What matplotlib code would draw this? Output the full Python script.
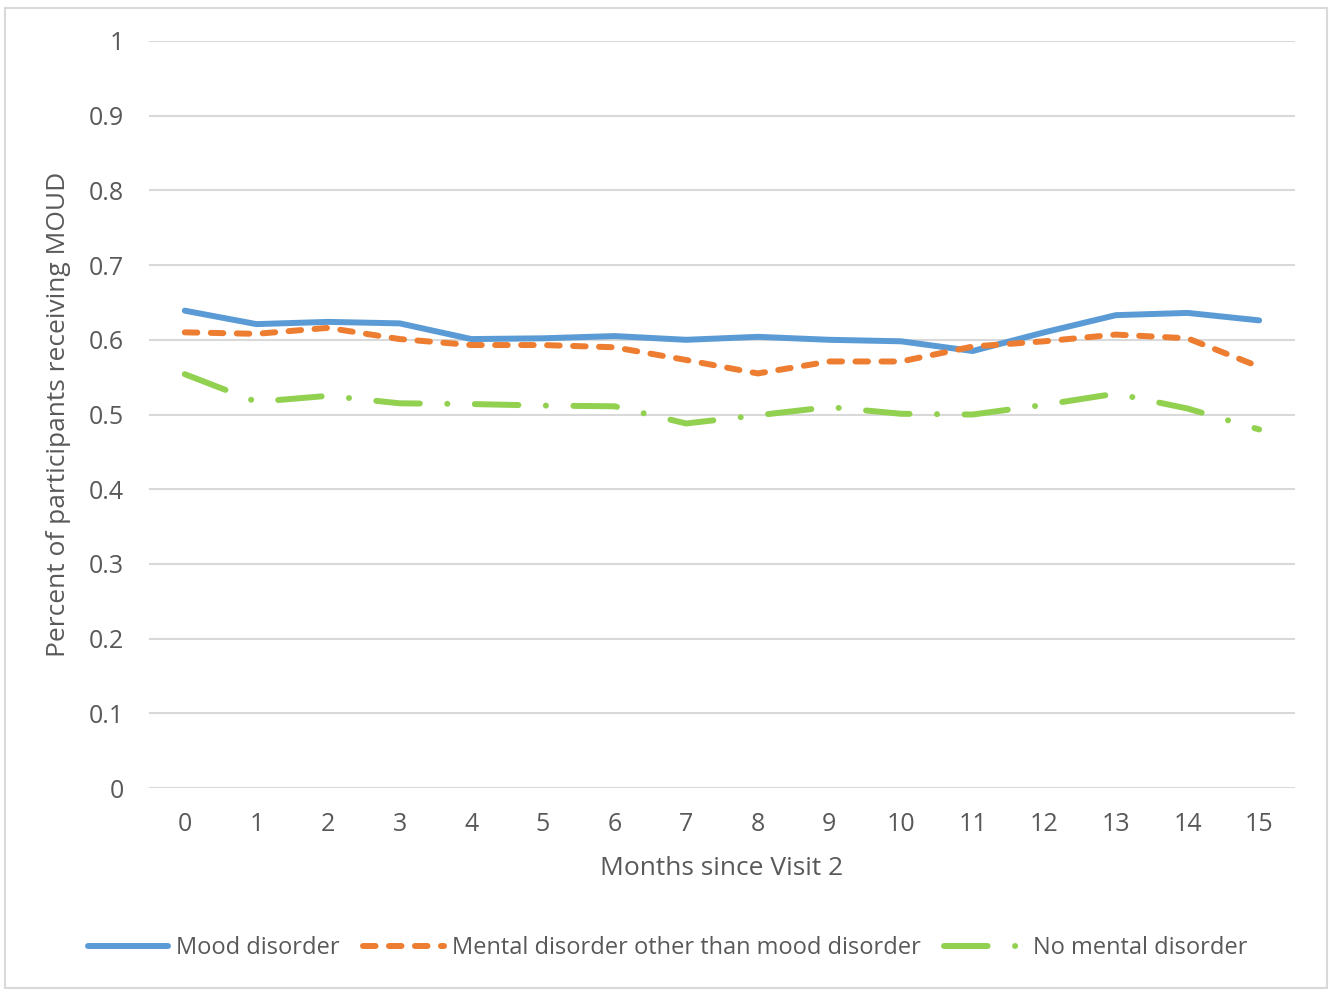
import matplotlib.pyplot as plt
from matplotlib.patches import Rectangle

plt.rcParams['font.family'] = ['Open Sans', 'DejaVu Sans']

months = list(range(16))
mood = [0.639, 0.621, 0.624, 0.622, 0.601, 0.602, 0.605, 0.600,
        0.604, 0.600, 0.598, 0.585, 0.610, 0.633, 0.636, 0.626]
other_mental = [0.610, 0.608, 0.616, 0.601, 0.593, 0.593, 0.590, 0.573,
                0.555, 0.571, 0.571, 0.591, 0.598, 0.607, 0.602, 0.564]
no_mental = [0.554, 0.517, 0.525, 0.515, 0.514, 0.512, 0.511, 0.488,
             0.499, 0.510, 0.501, 0.500, 0.513, 0.528, 0.508, 0.480]
y_ticks = [0, 0.1, 0.2, 0.3, 0.4, 0.5, 0.6, 0.7, 0.8, 0.9, 1]
y_tick_labels = ['0', '0.1', '0.2', '0.3', '0.4', '0.5', '0.6', '0.7', '0.8', '0.9', '1']

text_col = '#595959'
grid_col = '#D9D9D9'

fig = plt.figure(figsize=(13.35, 9.9), dpi=100)
ax = fig.add_axes([0.1116, 0.204, 0.8584, 0.7546])

lw = 4.3
ax.plot(months, mood, color='#5B9BD5', lw=lw, solid_capstyle='round',
        solid_joinstyle='round', label='Mood disorder')
ax.plot(months, other_mental, color='#ED7D31', lw=lw, dashes=(2.1, 2.25),
        dash_capstyle='round', dash_joinstyle='round',
        label='Mental disorder other than mood disorder')
ax.plot(months, no_mental, color='#92D050', lw=lw, dashes=(7.3, 4.6, 0.01, 4.6),
        dash_capstyle='round', dash_joinstyle='round', label='No mental disorder')

ax.set_xlim(-0.5, 15.5)
ax.set_ylim(0, 1)
ax.set_xticks(months)
ax.set_xticklabels([str(m) for m in months])
ax.set_yticks(y_ticks)
ax.set_yticklabels(y_tick_labels)
ax.tick_params(length=0, labelsize=18, labelcolor=text_col)
ax.tick_params(axis='y', pad=18)
ax.tick_params(axis='x', pad=17)
ax.grid(axis='y', color=grid_col, lw=1.5)
ax.set_axisbelow(True)
for s in ax.spines.values():
    s.set_visible(False)

ax.set_xlabel('Months since Visit 2', fontsize=19, color=text_col, labelpad=14)
ax.set_ylabel('Percent of participants receiving MOUD', fontsize=19,
              color=text_col, labelpad=13)

fig.legend(loc='center', bbox_to_anchor=(0.5, 0.042), ncol=3, frameon=False,
           fontsize=17, labelcolor=text_col, handlelength=3.4,
           handletextpad=0.35, columnspacing=1.0)

fig.patches.append(Rectangle((0.0037, 0.002), 0.990, 0.99, transform=fig.transFigure,
                             fill=False, edgecolor=grid_col, lw=1.5))

fig.savefig('out.png', dpi=100)
